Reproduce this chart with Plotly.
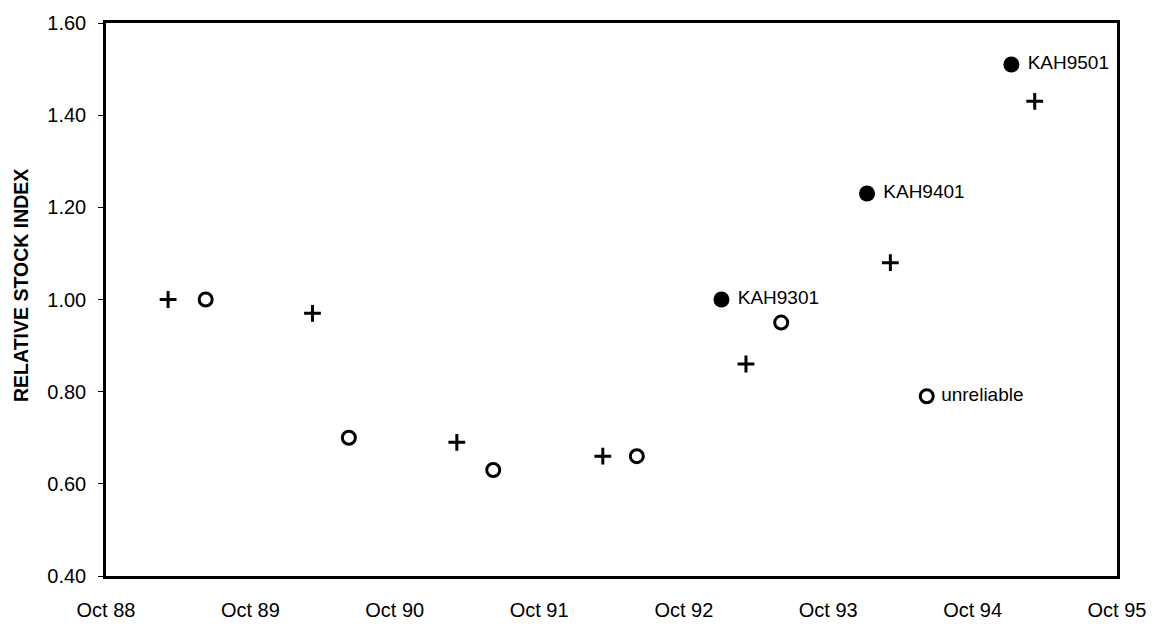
import plotly.graph_objects as go

# Data
plus_dates = ["1989-03-07", "1990-03-07", "1991-03-07", "1992-03-10",
              "1993-03-07", "1994-03-07", "1995-03-07"]
plus_vals = [1.00, 0.97, 0.69, 0.66, 0.86, 1.08, 1.43]

circle_dates = ["1989-06-10", "1990-06-07", "1991-06-07", "1992-06-04",
                "1993-06-04", "1994-06-07"]
circle_vals = [1.00, 0.70, 0.63, 0.66, 0.95, 0.79]
circle_labels = ["", "", "", "", "", "unreliable"]

filled_dates = ["1993-01-04", "1994-01-07", "1995-01-07"]
filled_vals = [1.00, 1.23, 1.51]
filled_labels = ["KAH9301", "KAH9401", "KAH9501"]

tick_dates = ["1988-10-01", "1989-10-01", "1990-10-01", "1991-10-01",
              "1992-10-01", "1993-10-01", "1994-10-01", "1995-10-01"]
tick_text = ["Oct 88", "Oct 89", "Oct 90", "Oct 91",
             "Oct 92", "Oct 93", "Oct 94", "Oct 95"]

y_title = "RELATIVE STOCK INDEX"

FONT = "Liberation Sans, Arial, sans-serif"

fig = go.Figure()

fig.add_trace(go.Scatter(
    x=plus_dates, y=plus_vals, mode="markers",
    marker=dict(symbol="cross-thin", size=12, color="black",
                line=dict(color="black", width=3)),
    showlegend=False, cliponaxis=False,
))

fig.add_trace(go.Scatter(
    x=circle_dates, y=circle_vals, mode="markers+text",
    text=[(" " + t) if t else "" for t in circle_labels],
    textposition="middle right",
    textfont=dict(family=FONT, size=19, color="black"),
    marker=dict(symbol="circle-open", size=13, color="black",
                line=dict(color="black", width=3)),
    showlegend=False, cliponaxis=False,
))

fig.add_trace(go.Scatter(
    x=filled_dates, y=filled_vals, mode="markers+text",
    text=[" " + t for t in filled_labels], textposition="middle right",
    textfont=dict(family=FONT, size=19, color="black"),
    marker=dict(symbol="circle", size=16, color="black"),
    showlegend=False, cliponaxis=False,
))

fig.add_annotation(
    text="<b>" + y_title + "</b>", textangle=-90,
    xref="paper", yref="paper",
    x=(20 - 105) / 1013, y=(583 - 286) / 566,
    xanchor="center", yanchor="middle", showarrow=False,
    font=dict(family=FONT, size=19.5, color="black"),
)

fig.update_layout(
    width=1158, height=633,
    margin=dict(l=106, r=39, t=17, b=50),
    paper_bgcolor="white", plot_bgcolor="white",
    font=dict(family=FONT, size=20, color="black"),
)

fig.update_xaxes(
    type="date",
    range=[tick_dates[0], tick_dates[-1]],
    tickmode="array", tickvals=tick_dates, ticktext=tick_text,
    showgrid=False, zeroline=False,
    showline=True, linecolor="black", linewidth=2.5, mirror=True,
    ticks="", ticklabelstandoff=14,
    tickfont=dict(family=FONT, size=20, color="black"),
)

fig.update_yaxes(
    range=[0.40, 1.60], dtick=0.2, tick0=0.4, tickformat=".2f",
    showgrid=False, zeroline=False,
    showline=True, linecolor="black", linewidth=2.5, mirror=True,
    ticks="outside", ticklen=5, tickwidth=1, tickcolor="black",
    ticklabelstandoff=8,
    tickfont=dict(family=FONT, size=20, color="black"),
)

fig.write_html("out.html")
